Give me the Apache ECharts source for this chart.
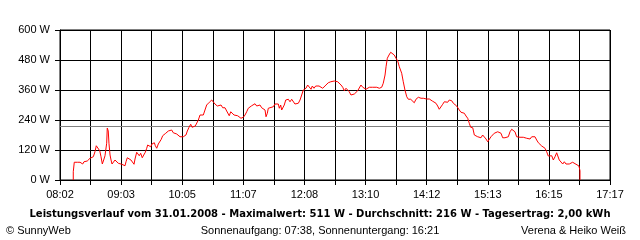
<!DOCTYPE html>
<html>
<head>
<meta charset="utf-8">
<script src="https://cdn.jsdelivr.net/npm/echarts@6/dist/echarts.min.js"></script>
<style>
html,body{margin:0;padding:0;background:#fff;}
#c{width:640px;height:240px;}
</style>
</head>
<body>
<div id="c"></div>
<script>
// ---- data ----
const xTickLabels = ['08:02','09:03','10:05','11:07','12:08','13:10','14:12','15:13','16:15','17:17'];
const spanMinutes = 555; // 08:02 -> 17:17
const yMax = 600;
const yStep = 120;
const averageW = 216;
const titleText = 'Leistungsverlauf vom 31.01.2008 - Maximalwert: 511 W - Durchschnitt: 216 W - Tagesertrag: 2,00 kWh';
const footLeft = '\u00A9 SunnyWeb';
const footCenter = 'Sonnenaufgang: 07:38, Sonnenuntergang: 16:21';
const footRight = 'Verena & Heiko Wei\u00DF';

// minutes after 08:02
const minutesAfterStart = [
 13.4,13.4,14.4,16.1,17.5,20.2,21.9,22.9,24.2,26.2,27.5,28.6,30.3,32.3,33.6,35.3,36.6,38.6,40.1,41.4,
 42.7,44.1,45.4,46.4,47.1,47.7,48.7,49.4,50.5,51.5,52.5,53.8,55.5,57.2,58.8,60.5,62.3,63.9,65.6,66.6,
 67.9,69.6,71.6,73.4,74.7,75.7,77.4,78.4,80.0,81.4,83.0,84.5,86.1,87.5,88.5,89.8,91.5,92.8,95.2,96.2,
 97.6,99.2,100.9,102.2,103.6,104.9,106.7,107.7,109.3,111.0,112.7,114.3,115.3,117.8,119.4,121.1,122.8,124.4,125.4,127.1,
 128.5,130.2,131.9,133.2,134.9,136.5,137.9,139.6,
 141.3,144.6,146.3,148.0,150.7,153.1,154.7,156.4,158.7,160.7,162.5,164.2,166.5,168.2,169.8,170.8,172.3,173.9,175.6,177.6,
 179.3,180.9,182.6,185.0,186.7,188.4,190.0,191.7,193.4,195.1,196.8,198.5,200.1,201.8,203.5,205.1,206.9,207.9,209.2,210.2,
 211.9,215.2,217.0,218.7,220.3,221.3,222.7,223.7,225.3,226.3,227.8,229.4,230.4,232.1,233.8,235.4,237.1,238.9,240.5,242.2,
 243.9,245.5,248.2,249.9,251.6,253.3,254.6,256.3,258.0,259.6,261.4,263.4,265.1,266.7,268.4,270.7,273.2,275.2,276.8,278.5,
 280.2,281.8,283.6,285.3,286.9,288.6,290.3,291.9,293.6,295.4,297.0,298.7,300.4,302.0,303.7,305.5,307.1,308.8,310.5,312.1,
 313.8,315.5,317.2,319.6,322.2,324.6,326.2,328.0,329.0,330.3,332.0,333.7,335.7,337.3,339.1,340.8,342.4,
 344.8,346.4,348.1,349.9,351.5,353.9,355.9,357.5,359.2,361.6,363.3,364.3,366.6,370.0,372.7,374.1,375.7,377.7,379.4,381.1,
 382.7,384.5,386.2,387.8,389.5,391.2,392.8,395.3,396.9,398.6,400.3,401.9,402.9,404.6,406.4,408.0,409.7,411.4,413.0,414.4,
 416.5,418.1,419.8,421.5,423.1,424.8,426.5,428.2,429.9,431.6,433.2,434.9,436.6,438.2,440.0,441.7,443.3,445.0,446.7,449.0,
 450.8,452.4,454.1,455.8,457.4,459.1,460.8,462.5,464.2,465.9,467.5,469.2,470.9,472.6,474.3,476.0,477.6,479.3,481.0,482.7,
 484.4,486.1,487.7,489.4,491.1,492.7,494.5,496.2,497.8,499.5,501.2,502.2,503.8,505.6,507.3,508.9,510.6,512.3,513.9,515.6,
 517.3,519.0,520.7,522.4,523.7,524.7,524.7
];
const watts = [
 0,33,71,70,71,71,71,64,73,80,76,82,87,87,93,113,137,137,117,93,
 64,80,97,97,147,208,196,147,100,80,64,67,80,73,67,67,63,57,57,73,
 89,85,80,76,63,84,111,103,97,107,89,100,111,127,140,133,133,144,149,137,
 127,144,151,163,177,183,187,191,196,189,200,189,184,184,180,173,180,173,167,180,
 196,211,223,211,216,216,220,240,
 260,260,280,300,311,320,313,304,296,300,300,289,289,276,271,257,273,269,260,267,
 257,249,247,251,260,273,287,293,297,303,305,296,304,300,289,287,280,253,267,287,
 293,293,304,307,304,287,300,280,273,300,320,313,323,313,323,327,304,296,307,320,
 340,360,367,380,376,363,376,367,376,380,376,371,367,371,380,389,393,396,396,400,
 393,389,380,371,357,367,360,353,340,336,344,347,357,353,380,371,363,363,363,371,
 367,371,367,371,367,371,387,420,453,487,500,511,507,500,487,476,453,
 427,393,360,333,323,323,316,309,323,331,336,327,327,324,324,327,316,316,307,296,
 283,283,303,313,320,311,320,317,307,307,296,293,280,271,267,267,256,247,227,211,
 209,180,176,173,167,169,180,173,164,153,160,173,180,187,193,193,187,187,169,169,
 169,173,193,203,203,193,173,167,171,173,171,176,167,169,164,173,180,173,160,149,
 144,136,133,127,113,96,93,97,80,93,109,104,80,76,64,73,64,69,64,67,
 71,69,63,63,56,37,0
];

// ---- chart ----
const xStep = spanMinutes / 18; // minutes between grid lines
const points = minutesAfterStart.map((m, i) => [m / xStep, watts[i]]);
const FONT = '"Liberation Sans", Arial, sans-serif';

const chart = echarts.init(document.getElementById('c'), null, {renderer: 'canvas'});
chart.setOption({
  animation: false,
  backgroundColor: '#fff',
  grid: {left: 60, right: 30, top: 30, bottom: 60, show: true, borderColor: '#000', borderWidth: 1, containLabel: false},
  xAxis: {
    type: 'value', min: 0, max: 18, interval: 1,
    axisLine: {show: true, onZero: false, lineStyle: {color: '#000', width: 1}},
    axisTick: {show: true, length: 5, lineStyle: {color: '#000'}},
    splitLine: {show: true, lineStyle: {color: '#000', width: 1}},
    axisLabel: {
      color: '#000', fontFamily: FONT, fontSize: 11, margin: 9,
      formatter: v => (Math.round(v) % 2 === 0 ? xTickLabels[Math.round(v) / 2] : '')
    }
  },
  yAxis: {
    type: 'value', min: 0, max: yMax, interval: yStep,
    axisLine: {show: true, lineStyle: {color: '#000', width: 1}},
    axisTick: {show: true, length: 5, lineStyle: {color: '#000'}},
    splitLine: {show: true, lineStyle: {color: '#000', width: 1}},
    axisLabel: {color: '#000', fontFamily: FONT, fontSize: 11, margin: 10, formatter: '{value} W'}
  },
  series: [{
    type: 'line',
    data: points,
    symbol: 'none',
    lineStyle: {color: '#ff0000', width: 1},
    z: 5,
    markLine: {
      silent: true, symbol: 'none', label: {show: false},
      lineStyle: {color: '#808080', type: 'solid', width: 1},
      data: [{yAxis: averageW}],
      z: 3
    }
  }],
  graphic: [
    {type: 'text', left: 'center', top: 209, style: {text: titleText, font: 'bold 10px "DejaVu Sans", Verdana, sans-serif', fill: '#000'}},
    {type: 'text', left: 6, top: 225, style: {text: footLeft, font: '11px ' + FONT, fill: '#000'}},
    {type: 'text', left: 'center', top: 225, style: {text: footCenter, font: '11px ' + FONT, fill: '#000'}},
    {type: 'text', right: 14, top: 225, style: {text: footRight, font: '11px ' + FONT, fill: '#000'}}
  ]
});
</script>
</body>
</html>
